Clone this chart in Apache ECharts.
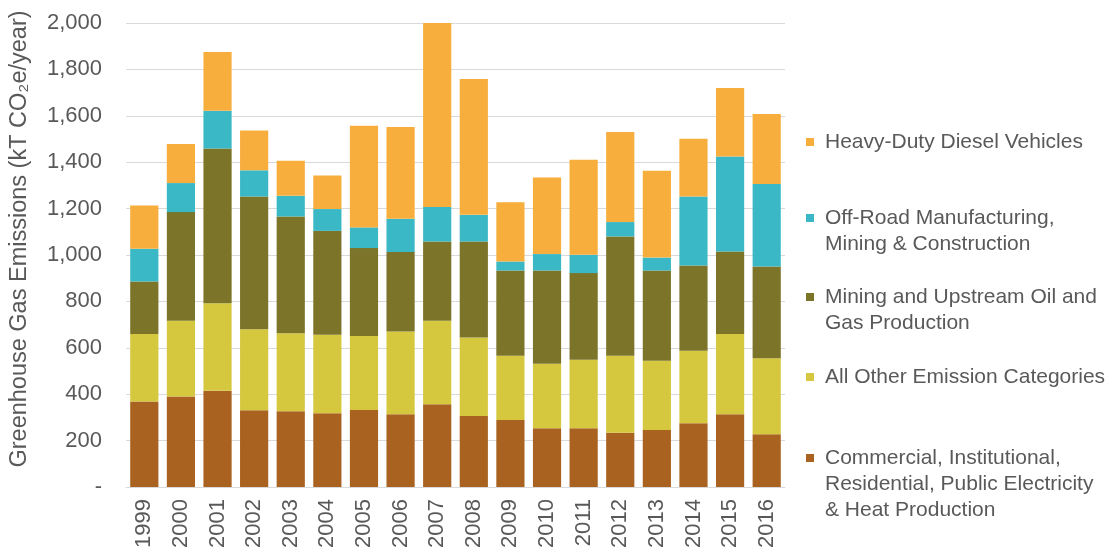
<!DOCTYPE html>
<html>
<head>
<meta charset="utf-8">
<script src="https://cdn.jsdelivr.net/npm/echarts@6/dist/echarts.min.js"></script>
<style>
  html, body { margin: 0; padding: 0; background: #fff; }
  #chart { width: 1115px; height: 559px; }
</style>
</head>
<body>
<div id="chart"></div>
<script>
const years = ['1999', '2000', '2001', '2002', '2003', '2004', '2005', '2006', '2007',
  '2008', '2009', '2010', '2011', '2012', '2013', '2014', '2015', '2016'];

// kT CO2e/year
const commercial = [368, 390, 415, 331, 327, 318, 332, 314, 357, 306, 289, 253, 253, 234, 246, 275, 314, 227];
const allOther = [291, 327, 377, 349, 336, 338, 319, 356, 360, 338, 277, 278, 295, 332, 298, 312, 345, 328];
const miningUpstream = [227, 468, 667, 572, 503, 448, 379, 343, 341, 414, 367, 402, 374, 514, 389, 368, 356, 395];
const offRoad = [141, 125, 163, 113, 89, 94, 89, 143, 149, 115, 39, 71, 79, 62, 56, 297, 410, 356];
const heavyDuty = [186, 168, 253, 172, 151, 145, 438, 396, 793, 586, 255, 330, 410, 388, 374, 249, 295, 302];

const seriesNames = [
  'Commercial, Institutional, Residential, Public Electricity & Heat Production',
  'All Other Emission Categories',
  'Mining and Upstream Oil and Gas Production',
  'Off-Road Manufacturing, Mining & Construction',
  'Heavy-Duty Diesel Vehicles'
];
// legend text split into the lines used in the original
const legendLines = [
  ['Commercial, Institutional,', 'Residential, Public Electricity', '& Heat Production'],
  ['All Other Emission Categories'],
  ['Mining and Upstream Oil and', 'Gas Production'],
  ['Off-Road Manufacturing,', 'Mining & Construction'],
  ['Heavy-Duty Diesel Vehicles']
];
const seriesData = [commercial, allOther, miningUpstream, offRoad, heavyDuty];
const colors = ['#a9621f', '#d5c83f', '#7c7428', '#3bb8c6', '#f8ae3c'];
const legendFirstLineY = [458, 377, 297, 218, 142];

const textColor = '#595959';
const fontFamily = 'Liberation Sans, Arial, sans-serif';
const lineH = 26;

const chart = echarts.init(document.getElementById('chart'));

// each legend entry on its own, icon level with the first text line
const legends = seriesNames.map((name, i) => {
  const n = legendLines[i].length;
  const pad = new Array(n - 1).fill('');
  return {
    data: [name],
    left: 806,
    top: legendFirstLineY[i] - (2 * n - 1) * lineH / 2,
    padding: 0,
    icon: 'rect',
    itemWidth: 8,
    itemHeight: 8,
    selectedMode: false,
    formatter: () => pad.concat(legendLines[i]).join('\n'),
    textStyle: {
      color: textColor,
      fontFamily: fontFamily,
      fontSize: 21,
      lineHeight: lineH,
      padding: [0, 0, 0, 6]
    }
  };
});

const option = {
  animation: false,
  backgroundColor: '#fff',
  grid: { left: 126, right: 330, top: 23, bottom: 72 },
  legend: legends,
  xAxis: {
    type: 'category',
    data: years,
    axisLine: { show: true, lineStyle: { color: '#d9d9d9' } },
    axisTick: { show: false },
    axisLabel: {
      rotate: 90,
      margin: 12,
      color: textColor,
      fontFamily: fontFamily,
      fontSize: 22
    }
  },
  yAxis: {
    type: 'value',
    min: 0,
    max: 2000,
    interval: 200,
    name: 'Greenhouse Gas Emissions (kT CO\u2082e/year)',
    nameLocation: 'middle',
    nameGap: 94,
    nameTextStyle: {
      color: textColor,
      fontFamily: fontFamily,
      fontSize: 23.5,
      padding: [0, 0, 0, 32]
    },
    axisLine: { show: false },
    axisTick: { show: false },
    splitLine: { lineStyle: { color: '#d9d9d9', width: 1 } },
    axisLabel: {
      margin: 24,
      color: textColor,
      fontFamily: fontFamily,
      fontSize: 22,
      formatter: (v) => (v === 0 ? '-' : v.toLocaleString('en-US'))
    }
  },
  series: seriesNames.map((name, i) => ({
    name: name,
    type: 'bar',
    stack: 'total',
    barCategoryGap: '23%',
    itemStyle: { color: colors[i] },
    data: seriesData[i]
  }))
};

chart.setOption(option);
window.addEventListener('resize', () => chart.resize());
</script>
</body>
</html>
